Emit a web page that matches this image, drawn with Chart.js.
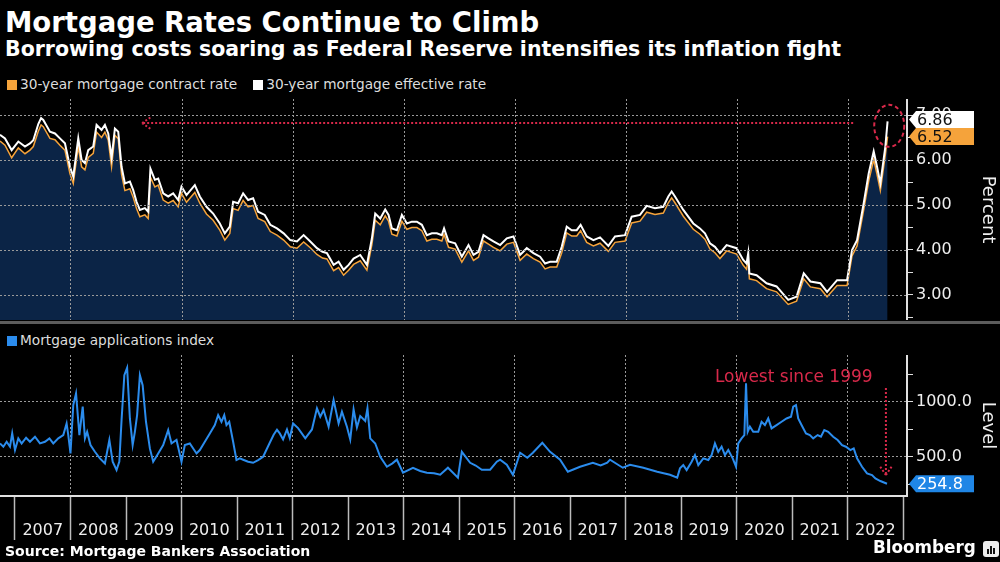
<!DOCTYPE html>
<html>
<head>
<meta charset="utf-8">
<title>Mortgage Rates Continue to Climb</title>
<script src="https://cdn.jsdelivr.net/npm/chart.js@4.4.0/dist/chart.umd.min.js"></script>
<style>
    body { margin: 0; background: #000; }
    #wrap { position: relative; width: 1000px; height: 562px; overflow: hidden; background: #000; color: #fff; font-family: 'DejaVu Sans', sans-serif; }
    .title { position: absolute; left: 5px; top: 7px; font: bold 27.5px/30px 'DejaVu Sans', sans-serif; white-space: nowrap; }
    .subtitle { position: absolute; left: 5px; top: 38px; font: bold 20.5px/23px 'DejaVu Sans', sans-serif; white-space: nowrap; }
    .legend { position: absolute; left: 7px; font-size: 13.7px; line-height: 16px; color: #ddd; white-space: nowrap; }
    .legend .key { margin-right: 16px; }
    .legend .key i { display: inline-block; width: 10px; height: 10px; margin-right: 3px; vertical-align: -1px; }
    .panel { position: absolute; left: 0; width: 1000px; }
    .sep { position: absolute; left: 0; top: 321px; width: 1000px; height: 3px; background: #5c5c5c; }
    .source { position: absolute; left: 5px; top: 543px; font: bold 14px/16px 'DejaVu Sans', sans-serif; white-space: nowrap; }
    .brand { position: absolute; left: 873px; top: 538px; font: bold 16.8px/18px 'DejaVu Sans', sans-serif; }
    .logo { position: absolute; left: 983px; top: 541px; width: 16px; height: 16px; background: #eee; border-radius: 3px; }
    .logo b { position: absolute; bottom: 3px; width: 2px; background: #111; }
</style>
</head>
<body>
<div id="wrap">
    <div class="title">Mortgage Rates Continue to Climb</div>
    <div class="subtitle">Borrowing costs soaring as Federal Reserve intensifies its inflation fight</div>
    <div class="legend" id="rates-legend" style="top:76px"></div>
    <div class="panel" style="top:99px;height:221px"><canvas id="rates-chart"></canvas></div>
    <div class="sep"></div>
    <div class="legend" id="apps-legend" style="top:332px"></div>
    <div class="panel" style="top:355px;height:190px"><canvas id="apps-chart"></canvas></div>
    <div class="source">Source: Mortgage Bankers Association</div>
    <div class="brand">Bloomberg</div>
    <div class="logo"><b style="left:4px;height:5px"></b><b style="left:7px;height:8px"></b><b style="left:10px;height:6px"></b></div>
</div>

<script>
// 30-year rates (x = decimal year)
const rateYears = [
    2006.73, 2006.82, 2006.94,
    2007.06, 2007.18, 2007.27, 2007.33, 2007.42, 2007.47, 2007.51, 2007.63, 2007.72, 2007.81, 2007.90, 2007.99,
    2008.05, 2008.14, 2008.20, 2008.26, 2008.32, 2008.41, 2008.47, 2008.56, 2008.62, 2008.68, 2008.74, 2008.80, 2008.86, 2008.92, 2008.98,
    2009.07, 2009.13, 2009.19, 2009.25, 2009.34, 2009.40, 2009.44, 2009.52, 2009.58, 2009.67, 2009.76, 2009.85, 2009.94,
    2010.00, 2010.09, 2010.24, 2010.33, 2010.45, 2010.57, 2010.69, 2010.78, 2010.87, 2010.93,
    2011.02, 2011.11, 2011.20, 2011.29, 2011.38, 2011.50, 2011.60, 2011.72, 2011.84, 2011.96,
    2012.08, 2012.20, 2012.32, 2012.44, 2012.54, 2012.62, 2012.74, 2012.83, 2012.92,
    2013.01, 2013.10, 2013.22, 2013.34, 2013.43, 2013.49, 2013.58, 2013.67, 2013.73, 2013.79, 2013.88, 2013.97,
    2014.06, 2014.15, 2014.24, 2014.33, 2014.42, 2014.51, 2014.60, 2014.69, 2014.73, 2014.81, 2014.93,
    2015.05, 2015.17, 2015.26, 2015.35, 2015.44, 2015.53, 2015.62, 2015.74, 2015.86, 2015.98,
    2016.10, 2016.22, 2016.34, 2016.46, 2016.55, 2016.64, 2016.76, 2016.85, 2016.94,
    2017.03, 2017.12, 2017.19, 2017.30, 2017.42, 2017.54, 2017.69, 2017.81, 2017.99,
    2018.11, 2018.26, 2018.38, 2018.53, 2018.68, 2018.77, 2018.83, 2018.89,
    2019.04, 2019.22, 2019.34, 2019.43, 2019.52, 2019.61, 2019.70, 2019.82,
    2020.00, 2020.12, 2020.18, 2020.21, 2020.23, 2020.36, 2020.54, 2020.72, 2020.93,
    2021.08, 2021.21, 2021.33, 2021.51, 2021.63, 2021.81, 2021.99,
    2022.08, 2022.17, 2022.29, 2022.38, 2022.47, 2022.53, 2022.59, 2022.68, 2022.72
];

const effectiveRate = [
    6.56, 6.48, 6.22,
    6.41, 6.30, 6.37, 6.44, 6.80, 6.93, 6.89, 6.63, 6.59, 6.48, 6.37, 5.85,
    5.63, 6.48, 6.00, 5.93, 6.22, 6.30, 6.78, 6.67, 6.78, 6.59, 6.05, 6.70, 6.63, 5.85, 5.48,
    5.52, 5.33, 5.07, 4.89, 4.93, 4.85, 5.81, 5.56, 5.59, 5.26, 5.19, 5.26, 5.11,
    5.41, 5.22, 5.44, 5.19, 4.96, 4.81, 4.59, 4.37, 4.52, 5.07,
    5.04, 5.26, 5.11, 5.15, 4.85, 4.78, 4.56, 4.48, 4.37, 4.22,
    4.19, 4.33, 4.19, 4.04, 3.96, 3.93, 3.67, 3.74, 3.56,
    3.67, 3.81, 3.89, 3.67, 4.26, 4.81, 4.70, 4.90, 4.78, 4.48, 4.44, 4.78,
    4.59, 4.63, 4.63, 4.56, 4.33, 4.37, 4.37, 4.33, 4.48, 4.19, 4.15,
    3.85, 4.11, 3.89, 3.96, 4.33, 4.26, 4.19, 4.11, 4.26, 4.30,
    3.89, 4.04, 3.93, 3.85, 3.70, 3.74, 3.74, 4.07, 4.52,
    4.44, 4.44, 4.56, 4.30, 4.22, 4.28, 4.09, 4.30, 4.33,
    4.74, 4.78, 4.98, 4.93, 4.96, 5.19, 5.30, 5.19,
    4.89, 4.59, 4.48, 4.37, 4.15, 4.07, 3.93, 4.11,
    4.04, 3.78, 3.70, 3.93, 3.48, 3.44, 3.26, 3.19, 2.89,
    2.96, 3.48, 3.30, 3.26, 3.07, 3.33, 3.33,
    4.00, 4.22, 5.04, 5.70, 6.19, 5.85, 5.48, 6.30, 6.86
];

const contractRate = [
    6.42, 6.33, 6.05,
    6.27, 6.14, 6.22, 6.30, 6.64, 6.78, 6.74, 6.48, 6.45, 6.33, 6.22, 5.70,
    5.48, 6.30, 5.85, 5.78, 6.06, 6.15, 6.62, 6.50, 6.62, 6.44, 5.85, 6.55, 6.47, 5.68, 5.32,
    5.36, 5.17, 4.92, 4.74, 4.78, 4.70, 5.62, 5.40, 5.44, 5.11, 5.04, 5.10, 4.96,
    5.26, 5.06, 5.28, 5.04, 4.80, 4.66, 4.44, 4.22, 4.37, 4.92,
    4.88, 5.10, 4.96, 4.99, 4.70, 4.63, 4.41, 4.33, 4.22, 4.07,
    4.04, 4.18, 4.05, 3.90, 3.82, 3.80, 3.54, 3.61, 3.44,
    3.55, 3.68, 3.76, 3.55, 4.12, 4.66, 4.56, 4.76, 4.64, 4.35, 4.31, 4.64,
    4.46, 4.50, 4.50, 4.43, 4.20, 4.24, 4.24, 4.20, 4.35, 4.06, 4.02,
    3.73, 3.98, 3.77, 3.84, 4.20, 4.13, 4.06, 3.98, 4.13, 4.17,
    3.77, 3.91, 3.81, 3.73, 3.58, 3.62, 3.62, 3.94, 4.38,
    4.31, 4.31, 4.43, 4.17, 4.09, 4.15, 3.97, 4.17, 4.20,
    4.60, 4.64, 4.84, 4.79, 4.82, 5.05, 5.16, 5.05,
    4.75, 4.46, 4.35, 4.24, 4.02, 3.94, 3.81, 3.98,
    3.91, 3.66, 3.57, 3.81, 3.36, 3.32, 3.14, 3.07, 2.79,
    2.86, 3.36, 3.18, 3.14, 2.96, 3.21, 3.21,
    3.87, 4.09, 4.89, 5.53, 6.01, 5.68, 5.32, 6.12, 6.52
];

// MBA mortgage applications index
const appYears = [
    2006.73, 2006.79, 2006.85, 2006.91, 2006.95,
    2007.00, 2007.06, 2007.12, 2007.20, 2007.27, 2007.36, 2007.45, 2007.54, 2007.62, 2007.69, 2007.78, 2007.87, 2007.93, 2007.96,
    2008.00, 2008.05, 2008.10, 2008.16, 2008.22, 2008.26, 2008.30, 2008.36, 2008.44, 2008.53, 2008.62, 2008.70, 2008.76, 2008.83, 2008.88, 2008.92, 2008.97,
    2009.02, 2009.07, 2009.12, 2009.16, 2009.20, 2009.25, 2009.30, 2009.36, 2009.43, 2009.49, 2009.58, 2009.67, 2009.76, 2009.82, 2009.91,
    2010.00, 2010.06, 2010.15, 2010.27, 2010.33, 2010.42, 2010.51, 2010.60, 2010.66, 2010.72, 2010.77, 2010.81, 2010.86, 2010.93, 2010.99,
    2011.05, 2011.11, 2011.20, 2011.29, 2011.38, 2011.47, 2011.59, 2011.66, 2011.72, 2011.77, 2011.83, 2011.90, 2011.95,
    2012.01, 2012.10, 2012.23, 2012.35, 2012.44, 2012.50, 2012.56, 2012.65, 2012.74, 2012.83, 2012.89, 2012.98,
    2013.04, 2013.10, 2013.16, 2013.22, 2013.31, 2013.35, 2013.40, 2013.49, 2013.58, 2013.70, 2013.80, 2013.88, 2013.99,
    2014.17, 2014.30, 2014.42, 2014.55, 2014.66, 2014.80, 2014.98,
    2015.05, 2015.20, 2015.30, 2015.41, 2015.56, 2015.68, 2015.74, 2015.86, 2015.97,
    2016.10, 2016.23, 2016.33, 2016.50, 2016.64, 2016.82, 2016.96,
    2017.18, 2017.41, 2017.55, 2017.67, 2017.72, 2017.95,
    2018.08, 2018.32, 2018.57, 2018.80, 2018.93, 2018.98,
    2019.04, 2019.10, 2019.19, 2019.25, 2019.31, 2019.40, 2019.49, 2019.55, 2019.61, 2019.67, 2019.73, 2019.79, 2019.85, 2019.93, 2019.99,
    2020.03, 2020.09, 2020.14, 2020.17, 2020.20, 2020.24, 2020.30, 2020.39, 2020.45, 2020.51, 2020.57, 2020.63, 2020.72, 2020.81, 2020.90, 2020.98,
    2021.02, 2021.07, 2021.11, 2021.17, 2021.25, 2021.32, 2021.38, 2021.46, 2021.52, 2021.58, 2021.65, 2021.74, 2021.82, 2021.90, 2021.97,
    2022.05, 2022.11, 2022.17, 2022.26, 2022.35, 2022.44, 2022.50, 2022.59, 2022.71
];

const appIndex = [
    621, 591, 636, 591, 712,
    561, 667, 621, 673, 636, 682, 621, 636, 667, 621, 667, 697, 803, 697,
    530, 970, 1076, 697, 955, 667, 727, 606, 545, 485, 439, 652, 455, 379, 455, 833, 1242,
    1309, 848, 606, 727, 879, 1242, 1151, 818, 576, 455, 530, 606, 742, 621, 652,
    455, 606, 621, 530, 561, 636, 712, 788, 879, 818, 879, 788, 818, 636, 470,
    485, 473, 455, 445, 470, 500, 627, 700, 745, 712, 657, 748, 670,
    803, 760, 667, 748, 940, 864, 925, 773, 1015, 803, 909, 773,
    657, 930, 767, 870, 825, 940, 667, 621, 500, 409, 440, 473, 355,
    400, 370, 355, 350, 336, 400, 309,
    545, 445, 420, 382, 382, 455, 473, 427, 336,
    536, 491, 536, 627, 545, 473, 364,
    409, 445, 420, 445, 473, 400,
    427, 400, 364, 336, 309, 394,
    424, 379, 455, 515, 424, 485, 470, 515, 621, 545, 591, 515, 561, 485, 409,
    621, 667, 697, 1167, 727, 773, 727, 727, 818, 788, 848, 758, 788, 818, 848, 864,
    955, 970, 848, 788, 712, 697, 667, 697, 682, 742, 727, 682, 652, 606, 591,
    561, 576, 485, 409, 348, 333, 303, 279, 254.8
];

// axis ticks
const yearLabels = [2007, 2008, 2009, 2010, 2011, 2012, 2013, 2014, 2015, 2016, 2017, 2018, 2019, 2020, 2021, 2022];
const gridYears = [2008, 2010, 2012, 2014, 2016, 2018, 2020, 2022];
const rateTicks = [2.5, 3, 3.5, 4, 4.5, 5, 5.5, 6, 6.5, 7];
const rateLabels = [3, 4, 5, 6, 7];
const appTicks = [250, 500, 750, 1000, 1250];
const appLabels = [500, 1000];

const ORANGE = '#f5a33b';
const BLUE = '#2b8ced';
const NAVY = '#0b2446';
const RED = '#d8294a';
const GRID = '#9a9a9a';
const GRID_DASH = [2, 2];
const X_MIN = 2006.73;
const X_MAX = 2023.07;

Chart.defaults.font.family = "'DejaVu Sans', sans-serif";
Chart.defaults.color = '#e8e8e8';
Chart.defaults.animation = false;

function toPoints(xs, ys) {
    return xs.map((x, i) => ({ x: x, y: ys[i] }));
}

// legend squares drawn as html, from the dataset colours
function buildLegend(id, datasets) {
    document.getElementById(id).innerHTML = datasets.map(ds =>
        `<span class="key"><i style="background:${ds.borderColor}"></i>${ds.label}</span>`
    ).join('');
}

// dotted grid painted after the series, so it also shows over the area fill
function overlayGrid(xValues, yValues) {
    return {
        id: 'overlayGrid',
        afterDatasetsDraw(chart) {
            const { ctx, chartArea: area } = chart;
            const xs = chart.scales.x, ys = chart.scales.y;
            ctx.save();
            ctx.strokeStyle = GRID;
            ctx.lineWidth = 1;
            ctx.setLineDash(GRID_DASH);
            xValues.forEach(v => {
                const px = Math.round(xs.getPixelForValue(v)) + 0.5;
                ctx.beginPath();
                ctx.moveTo(px, area.top);
                ctx.lineTo(px, area.bottom);
                ctx.stroke();
            });
            yValues.forEach(v => {
                const py = Math.round(ys.getPixelForValue(v)) + 0.5;
                ctx.beginPath();
                ctx.moveTo(area.left, py);
                ctx.lineTo(area.right, py);
                ctx.stroke();
            });
            ctx.restore();
        }
    };
}

// tags on the right axis showing the latest value of a series
const valueTags = {
    id: 'valueTags',
    afterDraw(chart) {
        const { ctx, chartArea } = chart;
        const yScale = chart.scales.y;
        const h = 17;
        const tags = chart.data.datasets.filter(ds => ds.tag).map(ds => {
            const last = ds.data[ds.data.length - 1].y;
            return { py: yScale.getPixelForValue(last), text: last.toFixed(ds.tag.digits), tag: ds.tag };
        }).sort((a, b) => b.py - a.py);
        // push the upper tag up when two overlap
        for (let i = 1; i < tags.length; i++) {
            if (tags[i - 1].py - tags[i].py < h) tags[i].py = tags[i - 1].py - h;
        }
        const x0 = chartArea.right + 2;
        ctx.save();
        ctx.font = "16px 'DejaVu Sans', sans-serif";
        ctx.textBaseline = 'middle';
        tags.forEach(t => {
            ctx.fillStyle = t.tag.fill;
            ctx.beginPath();
            ctx.moveTo(x0, t.py);
            ctx.lineTo(x0 + 7, t.py - h / 2);
            ctx.lineTo(x0 + 65, t.py - h / 2);
            ctx.lineTo(x0 + 65, t.py + h / 2);
            ctx.lineTo(x0 + 7, t.py + h / 2);
            ctx.closePath();
            ctx.fill();
            ctx.fillStyle = t.tag.color;
            ctx.fillText(t.text, x0 + 8, t.py + 1);
        });
        ctx.restore();
    }
};

// red call-outs, positioned in data units
function callouts(items) {
    return {
        id: 'callouts',
        afterDatasetsDraw(chart) {
            const { ctx } = chart;
            const xs = chart.scales.x, ys = chart.scales.y;
            const px = p => [xs.getPixelForValue(p[0]), ys.getPixelForValue(p[1])];
            ctx.save();
            ctx.strokeStyle = RED;
            ctx.fillStyle = RED;
            ctx.lineWidth = 2;
            items.forEach(item => {
                if (item.type === 'arrow') {
                    const [x1, y1] = px(item.from);
                    const [x2, y2] = px(item.to);
                    const a = Math.atan2(y2 - y1, x2 - x1);
                    ctx.setLineDash([2, 2]);
                    ctx.beginPath();
                    ctx.moveTo(x1, y1);
                    ctx.lineTo(x2, y2);
                    [-1, 1].forEach(s => {
                        ctx.moveTo(x2, y2);
                        ctx.lineTo(x2 - 11 * Math.cos(a + s * 0.6), y2 - 11 * Math.sin(a + s * 0.6));
                    });
                    ctx.stroke();
                } else if (item.type === 'ring') {
                    const [cx, cy] = px(item.at);
                    ctx.setLineDash([4, 3]);
                    ctx.beginPath();
                    ctx.ellipse(cx, cy, item.rx, item.ry, 0, 0, Math.PI * 2);
                    ctx.stroke();
                } else if (item.type === 'label') {
                    const [cx, cy] = px(item.at);
                    ctx.font = "17px 'DejaVu Sans', sans-serif";
                    ctx.textAlign = 'center';
                    ctx.textBaseline = 'middle';
                    ctx.fillText(item.text, cx, cy);
                }
            });
            ctx.restore();
        }
    };
}

const rateNotes = [
    { type: 'arrow', from: [2022.10, 6.82], to: [2009.29, 6.82] },
    { type: 'ring', at: [2022.75, 6.76], rx: 15, ry: 21 }
];

const appNotes = [
    { type: 'label', at: [2021.03, 1224], text: 'Lowest since 1999' },
    { type: 'arrow', from: [2022.69, 1124], to: [2022.69, 334] }
];

// invisible axes that only carry the dotted grid
function gridAxis(position, min, max, values) {
    const horizontal = position === 'top' || position === 'bottom';
    return {
        type: 'linear',
        position: position,
        min: min,
        max: max,
        afterBuildTicks: axis => { axis.ticks = values.map(v => ({ value: v })); },
        afterFit: axis => {
            if (horizontal) axis.height = 0; else axis.width = 0;
            axis.paddingTop = axis.paddingBottom = axis.paddingLeft = axis.paddingRight = 0;
        },
        ticks: { display: false },
        grid: { color: GRID, lineWidth: 1, drawTicks: false },
        border: { display: false, dash: GRID_DASH }
    };
}

// visible right axis: labels, tick marks and the solid axis line
function rightAxis(min, max, ticks, labels, title, digits) {
    return {
        position: 'right',
        min: min,
        max: max,
        afterBuildTicks: axis => { axis.ticks = ticks.map(v => ({ value: v })); },
        afterFit: axis => {
            axis.width = 93;
            // the panel edges are fixed, don't let label overhang shrink the plot
            axis.paddingTop = 0;
            axis.paddingBottom = 0;
        },
        ticks: {
            autoSkip: false,
            callback: v => labels.includes(v) ? v.toFixed(digits) : '',
            color: '#eeeeee',
            font: { size: 16 },
            padding: 3
        },
        grid: {
            drawOnChartArea: false,
            tickColor: '#dddddd',
            tickLength: 6,
            tickWidth: 1
        },
        border: { color: '#e0e0e0', width: 2 },
        title: { display: true, text: title, color: '#eeeeee', font: { size: 18 }, padding: { top: 2, bottom: 0 } }
    };
}

// top panel: rates
const rateDatasets = [
    {
        label: '30-year mortgage contract rate',
        data: toPoints(rateYears, contractRate),
        borderColor: ORANGE,
        backgroundColor: NAVY,
        borderWidth: 1.5,
        fill: 'start',
        pointRadius: 0,
        order: 1,
        tag: { fill: ORANGE, color: '#111111', digits: 2 }
    },
    {
        label: '30-year mortgage effective rate',
        data: toPoints(rateYears, effectiveRate),
        borderColor: '#ffffff',
        borderWidth: 2,
        fill: false,
        pointRadius: 0,
        order: 0,
        tag: { fill: '#ffffff', color: '#111111', digits: 2 }
    }
];
buildLegend('rates-legend', rateDatasets);

new Chart(document.getElementById('rates-chart'), {
    type: 'line',
    data: { datasets: rateDatasets },
    options: {
        responsive: true,
        maintainAspectRatio: false,
        layout: { padding: 0 },
        plugins: { legend: { display: false }, tooltip: { enabled: false } },
        scales: {
            x: { type: 'linear', min: X_MIN, max: X_MAX, display: false },
            y: rightAxis(2.444, 7.356, rateTicks, rateLabels, 'Percent', 2)
        }
    },
    plugins: [overlayGrid(gridYears, rateLabels), callouts(rateNotes), valueTags]
});

// bottom panel: applications
const appDatasets = [
    {
        label: 'Mortgage applications index',
        data: toPoints(appYears, appIndex),
        borderColor: BLUE,
        borderWidth: 2,
        fill: false,
        pointRadius: 0,
        tag: { fill: '#1f86e6', color: '#ffffff', digits: 1 }
    }
];
buildLegend('apps-legend', appDatasets);

new Chart(document.getElementById('apps-chart'), {
    type: 'line',
    data: { datasets: appDatasets },
    options: {
        responsive: true,
        maintainAspectRatio: false,
        layout: { padding: 0 },
        plugins: { legend: { display: false }, tooltip: { enabled: false } },
        scales: {
            x: {
                type: 'linear',
                min: X_MIN,
                max: X_MAX,
                // year boundaries carry the separators, mid-years carry the labels
                afterBuildTicks: axis => {
                    const t = [];
                    yearLabels.forEach(y => { t.push({ value: y }); t.push({ value: y + 0.5 }); });
                    t.push({ value: yearLabels[yearLabels.length - 1] + 1 });
                    axis.ticks = t;
                },
                afterFit: axis => { axis.height = 49; },
                ticks: {
                    autoSkip: false,
                    maxRotation: 0,
                    padding: -19,
                    color: '#eeeeee',
                    font: { size: 16 },
                    callback: v => Number.isInteger(v) ? '' : String(Math.floor(v))
                },
                grid: {
                    drawOnChartArea: false,
                    tickLength: 44,
                    tickWidth: 1.5,
                    tickColor: c => (c.tick && Number.isInteger(c.tick.value)) ? '#bbbbbb' : 'transparent'
                },
                border: { color: '#e0e0e0', width: 2 }
            },
            xg: gridAxis('top', X_MIN, X_MAX, gridYears),
            yg: gridAxis('left', 143, 1425, appLabels),
            y: rightAxis(143, 1425, appTicks, appLabels, 'Level', 1)
        }
    },
    plugins: [callouts(appNotes), valueTags]
});
</script>
</body>
</html>
